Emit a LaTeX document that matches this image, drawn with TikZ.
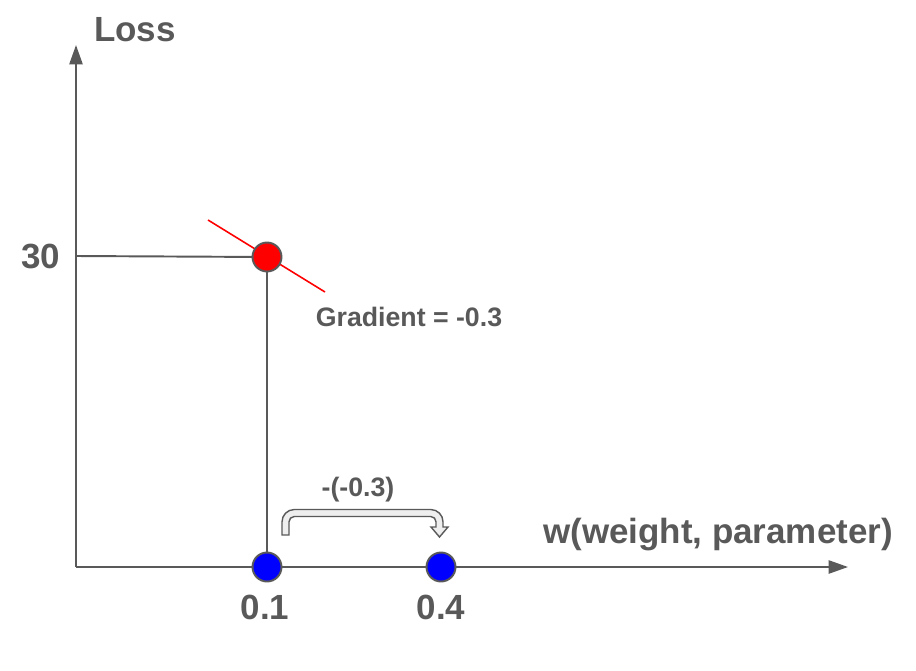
\documentclass[tikz,border=0pt]{standalone}
\usepackage{fontspec}
\setmainfont{Liberation Sans}
\usetikzlibrary{arrows.meta}
\usepackage{xcolor}
\definecolor{axisgray}{HTML}{595959}
\definecolor{bracketfill}{HTML}{EEEEEE}

\begin{document}
\begin{tikzpicture}[x=0.02cm, y=-0.02cm,
  axis/.style={line width=\axiswidth, draw=axisgray, -{Triangle[length=11pt, width=7.5pt]}},
  guide/.style={line width=\guidewidth, draw=axisgray},
  point/.style={circle, draw=axisgray, line width=\guidewidth, minimum size=0.58cm, inner sep=0pt},
  biglabel/.style={text=axisgray, font=\fontsize{19.9}{24}\selectfont\bfseries},
  smalllabel/.style={text=axisgray, font=\fontsize{15.2}{18}\selectfont\bfseries}]
\pgfmathsetmacro{\axiswidth}{1.1pt}
\pgfmathsetmacro{\guidewidth}{1.1pt}
\pgfmathsetmacro{\slopewidth}{0.9pt}

\useasboundingbox (0,0) rectangle (916,670);

\coordinate (origin) at (76,567);
\coordinate (y_top) at (76,45);
\coordinate (x_end) at (848,567);
\coordinate (loss_tick) at (76,256);
\coordinate (red_center) at (267,257);
\coordinate (left_center) at (267,567);
\coordinate (right_center) at (441,567);
\coordinate (slope_start) at (208,220);
\coordinate (slope_end) at (325,292);

\draw [guide] (loss_tick) -- (red_center);
\draw [guide] (red_center) -- (left_center);
\draw [axis] (origin) -- (y_top);
\draw [axis] (origin) -- (x_end);
\draw [red, line width=\slopewidth] (slope_start) -- (slope_end);

\node [point, fill=red] (red_point) at (red_center) {};
\node [point, fill=blue] (left_point) at (left_center) {};
\node [point, fill=blue] (right_point) at (right_center) {};

% hollow bent arrow for the step
\draw [draw=axisgray, fill=bracketfill, line width=0.8pt, line join=miter]
  (282,535) [rounded corners=7] -- (282,509.5) -- (443,509.5)
  [sharp corners] -- (443,527) -- (448,527) -- (439.5,537) -- (431,527) -- (436,527)
  [rounded corners=3] -- (436,516.5) -- (289,516.5)
  [sharp corners] -- (289,535) -- cycle;

\node [biglabel] (loss_label) at (135,30) {Loss};
\node [biglabel] (w_label) at (718,535) {w(weight, parameter)};
\node [biglabel] (loss_value) at (41,256) {30};
\node [biglabel] (left_value) at (265,607) {0.1};
\node [biglabel] (right_value) at (441,607) {0.4};
\node [smalllabel] (gradient_label) at (409,317) {Gradient = -0.3};
\node [smalllabel] (step_label) at (358,490) {-(-0.3)};
\end{tikzpicture}
\end{document}
